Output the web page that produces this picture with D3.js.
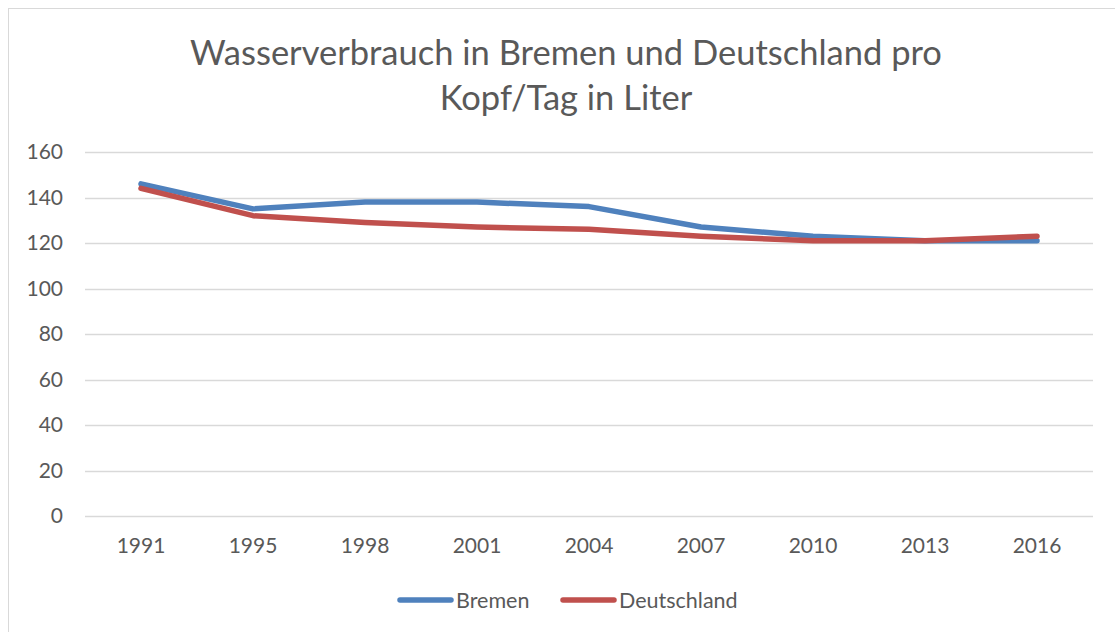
<!DOCTYPE html>
<html>
<head>
<meta charset="utf-8">
<script src="https://cdn.jsdelivr.net/npm/d3@7"></script>
<style>
  body { margin: 0; background: #fff; }
  svg { display: block; font-family: Lato, "Open Sans", sans-serif; }
</style>
</head>
<body>
<svg id="grafico"></svg>
<script>
// dados
let anos = ["1991", "1995", "1998", "2001", "2004", "2007", "2010", "2013", "2016"];
let bremen = [146, 135, 138, 138, 136, 127, 123, 121, 121];
let deutschland = [144, 132, 129, 127, 126, 123, 121, 121, 123];
let yTicks = [0, 20, 40, 60, 80, 100, 120, 140, 160];
let nomesSeries = ["Bremen", "Deutschland"];
let cores = ["#4f81bd", "#c0504d"];

let width = 1115, height = 632;
let svg = d3.select("#grafico")
  .attr("width", width)
  .attr("height", height);

// moldura do gráfico
svg.append("rect")
  .attr("x", 8.5).attr("y", 8.5)
  .attr("width", width + 10).attr("height", height + 10)
  .attr("fill", "#fff")
  .attr("stroke", "#d9d9d9");

// título
let titulo = svg.append("text")
  .attr("text-anchor", "middle")
  .attr("fill", "#595959")
  .style("font-size", "34.5px");
titulo.append("tspan").attr("x", 566).attr("y", 65).text("Wasserverbrauch in Bremen und Deutschland pro");
titulo.append("tspan").attr("x", 566).attr("y", 110).text("Kopf/Tag in Liter");

let x = d3.scaleBand().domain(anos).range([85, 1093]);
let y = d3.scaleLinear().domain([0, 160]).range([516, 152]);

// linhas de grade
svg.append("g")
  .selectAll("line")
  .data(yTicks)
  .enter().append("line")
  .attr("x1", 85).attr("x2", 1093)
  .attr("y1", d => Math.round(y(d)) + 0.5)
  .attr("y2", d => Math.round(y(d)) + 0.5)
  .attr("stroke", "#d9d9d9")
  .attr("stroke-width", 1.3);

// eixo y
let eixoY = svg.append("g")
  .attr("transform", "translate(63,0)")
  .call(d3.axisLeft(y).tickValues(yTicks).tickSize(0).tickPadding(0));
eixoY.select(".domain").remove();
eixoY.selectAll("text")
  .attr("fill", "#595959")
  .style("font-size", "21px")
  .style("font-family", "Lato, 'Open Sans', sans-serif");

// eixo x
let eixoX = svg.append("g")
  .attr("transform", "translate(0,516)")
  .call(d3.axisBottom(x).tickSize(0).tickPadding(22));
eixoX.select(".domain").remove();
eixoX.selectAll("text")
  .attr("fill", "#595959")
  .style("font-size", "21px")
  .style("font-family", "Lato, 'Open Sans', sans-serif");

let linha = d3.line()
  .x((d, i) => x(anos[i]) + x.bandwidth() / 2)
  .y(d => y(d));

[bremen, deutschland].forEach(function(serie, i){
  svg.append("path")
    .datum(serie)
    .attr("d", linha)
    .attr("fill", "none")
    .attr("stroke", cores[i])
    .attr("stroke-width", 5.5)
    .attr("stroke-linecap", "round")
    .attr("stroke-linejoin", "round");
});

// legenda
let legendaX = [398, 561];
nomesSeries.forEach(function(nome, i){
  let g = svg.append("g").attr("transform", "translate(" + legendaX[i] + ",600)");
  g.append("line")
    .attr("x1", 2).attr("x2", 53)
    .attr("stroke", cores[i])
    .attr("stroke-width", 5.5)
    .attr("stroke-linecap", "round");
  g.append("text")
    .attr("x", 58).attr("y", 8)
    .attr("fill", "#595959")
    .style("font-size", "21.5px")
    .text(nome);
});
</script>
</body>
</html>
